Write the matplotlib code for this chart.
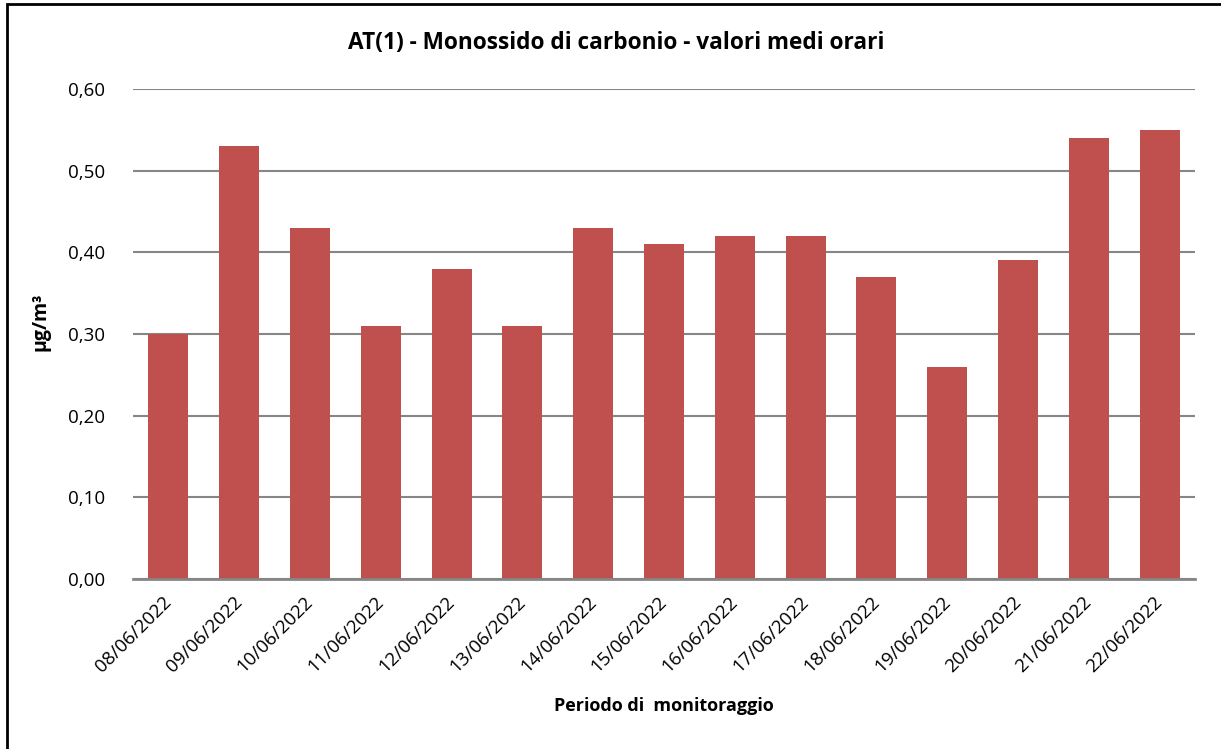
import matplotlib.pyplot as plt
from matplotlib.patches import Rectangle
from matplotlib.ticker import FuncFormatter
from matplotlib.transforms import ScaledTranslation

# dati: valori medi orari CO per giorno
giorni = ['08/06/2022', '09/06/2022', '10/06/2022', '11/06/2022', '12/06/2022',
          '13/06/2022', '14/06/2022', '15/06/2022', '16/06/2022', '17/06/2022',
          '18/06/2022', '19/06/2022', '20/06/2022', '21/06/2022', '22/06/2022']
valori = [0.30, 0.53, 0.43, 0.31, 0.38, 0.31, 0.43, 0.41, 0.42, 0.42,
          0.37, 0.26, 0.39, 0.54, 0.55]
yticks = [0.0, 0.1, 0.2, 0.3, 0.4, 0.5, 0.6]

plt.rcParams['font.family'] = ['Open Sans', 'DejaVu Sans']

fig = plt.figure(figsize=(12.21, 7.49), dpi=100)
ax = fig.add_axes([0.1089, 0.2270, 0.8698, 0.6542])

x = list(range(len(giorni)))
ax.bar(x, valori, width=0.565, color='#C0504D', zorder=3)

ax.set_xlim(-0.5, len(giorni) - 0.5)
ax.set_ylim(0, 0.6)
ax.set_yticks(yticks)
ax.yaxis.set_major_formatter(FuncFormatter(lambda v, p: f'{v:.2f}'.replace('.', ',')))
ax.grid(axis='y', color='#868686', linewidth=1.5, zorder=0)

for s in ['left', 'right', 'top']:
    ax.spines[s].set_visible(False)
ax.spines['bottom'].set_color('#868686')
ax.spines['bottom'].set_linewidth(2)
ax.spines['bottom'].set_zorder(4)

ax.set_xticks(x)
ax.set_xticklabels(giorni, rotation=45, ha='right', rotation_mode='anchor')
ax.tick_params(axis='both', length=0, labelsize=13.5)
ax.tick_params(axis='x', pad=10)
ax.tick_params(axis='y', pad=20)
# sposta le etichette un po' a sinistra, come in Excel
shift = ScaledTranslation(-0.06, 0, fig.dpi_scale_trans)
for lbl in ax.get_xticklabels():
    lbl.set_transform(lbl.get_transform() + shift)

fig.text(664 / 1221, 1 - 706 / 749, 'Periodo di  monitoraggio',
         ha='center', va='center', fontsize=13, fontweight='bold')
fig.text(40 / 1221, 1 - 322 / 749, 'µg/m³', rotation=90,
         ha='center', va='center', fontsize=14, fontweight='bold')

fig.text(616 / 1221, 1 - 43 / 749, 'AT(1) - Monossido di carbonio - valori medi orari',
         ha='center', va='center', fontsize=16.3, fontweight='bold')

# cornice del grafico
fig.patches.append(Rectangle((7 / 1221, -0.05), 1.1, 1 - 4 / 749 + 0.05,
                             transform=fig.transFigure, fill=False,
                             edgecolor='black', linewidth=2))

fig.savefig('out.png', dpi=100)
